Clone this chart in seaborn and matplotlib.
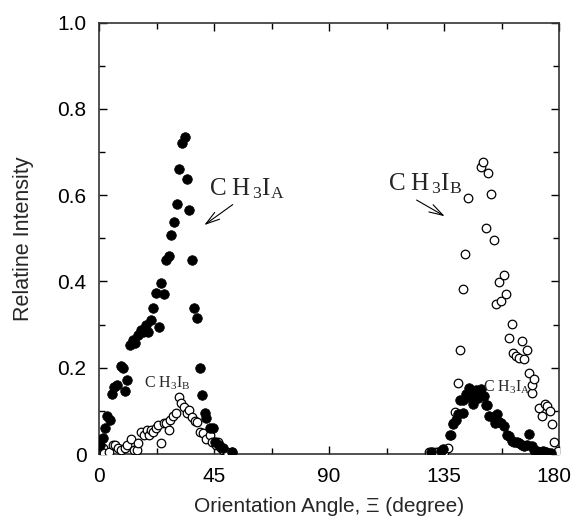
import numpy as np
import pandas as pd
import matplotlib
matplotlib.use("Agg")
import matplotlib.pyplot as plt
import matplotlib.transforms as mtransforms
import seaborn as sns
from matplotlib.ticker import MultipleLocator

# CH3I_A (filled circles)
a_angle = [0.4, 1.4, 2.3, 3.3, 4.3, 5.1, 6.0, 7.2, 8.6, 9.5, 10.3, 11.1, 12.1, 13.2, 14.2,
           15.4, 16.3, 17.3, 18.4, 19.3, 20.3, 21.3, 22.3, 23.5, 24.3, 25.4, 26.2, 27.3,
           28.2, 29.3, 30.4, 31.4, 32.3, 33.5, 34.4, 35.2, 36.4, 37.3, 38.3, 39.4, 40.4,
           41.3, 41.9, 43.4, 44.5, 45.4, 47.1, 48.6, 51.9,
           129.8, 133.8, 134.7, 137.3, 138.6, 139.7, 140.3, 141.3, 142.3, 142.6, 143.6,
           144.4, 144.9, 145.8, 146.4, 147.4, 148.4, 149.5, 150.6, 151.4, 151.9, 152.5,
           154.0, 155.0, 155.6, 156.4, 157.4, 158.5, 159.5, 160.4, 161.5, 162.5, 163.4,
           164.4, 165.4, 166.4, 167.3, 168.4, 169.3, 170.2, 171.3, 172.6, 173.8, 174.8,
           175.8, 177.0]
a_int = [0.021, 0.036, 0.060, 0.087, 0.079, 0.140, 0.156, 0.160, 0.203, 0.199, 0.145, 0.172,
         0.253, 0.265, 0.257, 0.276, 0.288, 0.284, 0.299, 0.284, 0.311, 0.338, 0.374, 0.295,
         0.397, 0.370, 0.450, 0.458, 0.508, 0.539, 0.580, 0.660, 0.722, 0.736, 0.637, 0.566,
         0.450, 0.339, 0.316, 0.199, 0.137, 0.094, 0.084, 0.060, 0.060, 0.029, 0.021, 0.013,
         0.005,
         0.004, 0.008, 0.011, 0.045, 0.070, 0.078, 0.093, 0.125, 0.095, 0.125, 0.138,
         0.132, 0.153, 0.138, 0.116, 0.148, 0.131, 0.150, 0.134, 0.113, 0.114, 0.088,
         0.085, 0.073, 0.093, 0.074, 0.071, 0.064, 0.045, 0.041, 0.031, 0.029, 0.027,
         0.025, 0.021, 0.019, 0.021, 0.047, 0.019, 0.010, 0.007, 0.005, 0.007, 0.004,
         0.003, 0.003]

# CH3I_B (open circles)
b_angle = [1.7, 2.0, 4.0, 5.4, 6.3, 7.6, 8.5, 10.2, 11.1, 12.4, 13.5, 14.7, 15.4, 16.3,
           17.7, 18.6, 19.6, 20.3, 21.3, 22.2, 23.2, 24.3, 25.4, 26.2, 27.3, 27.7, 28.8,
           30.0, 31.4, 32.0, 33.4, 34.3, 35.4, 36.5, 37.5, 38.2, 39.4, 40.5, 42.0, 43.4,
           44.3, 45.8, 46.6, 47.6, 48.6, 50.1, 51.9,
           129.3, 130.8, 131.9, 132.8, 134.2, 135.1, 136.4, 137.6, 138.4, 139.3, 140.4,
           141.3, 142.3, 143.3, 144.4, 149.3, 150.4, 151.3, 152.3, 153.4, 154.4, 155.3,
           156.4, 157.4, 158.4, 159.4, 160.4, 161.5, 162.1, 163.2, 164.2, 165.4, 166.3,
           167.3, 168.4, 169.3, 169.4, 170.3, 172.3, 173.3, 174.3, 175.1, 176.5, 177.3,
           178.2, 179.5]
b_int = [0.013, 0.003, 0.005, 0.021, 0.021, 0.013, 0.009, 0.013, 0.020, 0.034, 0.010, 0.009,
         0.026, 0.052, 0.044, 0.055, 0.044, 0.056, 0.052, 0.060, 0.067, 0.026, 0.073, 0.071,
         0.055, 0.078, 0.087, 0.096, 0.133, 0.118, 0.110, 0.095, 0.103, 0.086, 0.076, 0.074,
         0.052, 0.048, 0.034, 0.044, 0.029, 0.021, 0.027, 0.013, 0.009, 0.005, 0.004,
         0.004, 0.004, 0.005, 0.004, 0.007, 0.004, 0.015, 0.044, 0.071, 0.098, 0.165,
         0.240, 0.382, 0.463, 0.594, 0.665, 0.677, 0.523, 0.652, 0.603, 0.497, 0.347,
         0.398, 0.354, 0.416, 0.371, 0.270, 0.302, 0.235, 0.228, 0.223, 0.262, 0.221,
         0.240, 0.187, 0.141, 0.160, 0.175, 0.106, 0.089, 0.115, 0.111, 0.099, 0.070,
         0.027, 0.008]

x_ticks = [0, 45, 90, 135, 180]
y_ticks = [0, 0.2, 0.4, 0.6, 0.8, 1.0]

sns.set_style("white")
plt.rcParams['font.family'] = ['Liberation Sans', 'DejaVu Sans']
plt.rcParams['mathtext.fontset'] = 'custom'
plt.rcParams['mathtext.rm'] = 'Liberation Serif'
plt.rcParams['mathtext.it'] = 'Liberation Serif'

fig = plt.figure(figsize=(5.74, 5.27), dpi=100)
ax = fig.add_axes([0.1725, 0.1385, 0.8015, 0.8185])

df_a = pd.DataFrame({"angle": a_angle, "intensity": a_int})
df_b = pd.DataFrame({"angle": b_angle, "intensity": b_int})

sns.scatterplot(data=df_b, x="angle", y="intensity", ax=ax, s=38, marker="o",
                facecolor="white", edgecolor="black", linewidth=0.9, zorder=3)
sns.scatterplot(data=df_a, x="angle", y="intensity", ax=ax, s=48, marker="o",
                color="black", edgecolor="black", linewidth=0.5, zorder=4)

ax.set_xlim(0, 180)
ax.set_ylim(0, 1.0)
ax.set_xticks(x_ticks)
ax.set_xticklabels([str(t) for t in x_ticks])
ax.set_yticks(y_ticks)
ax.set_yticklabels([f"{t:.1f}" if t != 0 else "0" for t in y_ticks])
ax.xaxis.set_minor_locator(MultipleLocator(22.5))
ax.yaxis.set_minor_locator(MultipleLocator(0.1))
ax.tick_params(which="both", direction="in", top=True, right=True, left=True, bottom=True,
               labelsize=15, colors="black")
ax.tick_params(which="major", length=6, width=1.0, pad=9)
ax.tick_params(which="minor", length=4, width=1.0)
for sp in ax.spines.values():
    sp.set_color("#333333")
    sp.set_linewidth(1.2)

# nudge the last x tick label so it stays inside the figure
last = ax.get_xticklabels()[-1]
last.set_transform(last.get_transform() + mtransforms.ScaledTranslation(-5 / 100, 0, fig.dpi_scale_trans))

ax.set_xlabel("Orientation Angle, \u039e (degree)", fontsize=15, labelpad=8)
ax.set_ylabel("Relatine Intensity", fontsize=15.5, labelpad=17)

serif = "Liberation Serif"
ax.text(43.0, 0.599, r"C H$_{\,3}$I$_{\rm A}$", fontsize=18, family=serif, ha="left", va="baseline")
ax.annotate("", xy=(40.3, 0.527), xytext=(53.2, 0.582),
            arrowprops=dict(arrowstyle="->,head_length=1.0,head_width=0.3", lw=0.8, color="black"))
ax.text(113.1, 0.61, r"C H$_{\,3}$I$_{\rm B}$", fontsize=18, family=serif, ha="left", va="baseline")
ax.annotate("", xy=(136.2, 0.548), xytext=(123.3, 0.592),
            arrowprops=dict(arrowstyle="->,head_length=1.0,head_width=0.3", lw=0.8, color="black"))
ax.text(17.6, 0.153, r"C H$_3$I$_{\rm B}$", fontsize=11.5, family=serif, ha="left", va="baseline", zorder=5)
ax.text(150.3, 0.144, r"C H$_3$I$_{\rm A}$", fontsize=11.5, family=serif, ha="left", va="baseline", zorder=5)

fig.savefig("out.png", dpi=100)
